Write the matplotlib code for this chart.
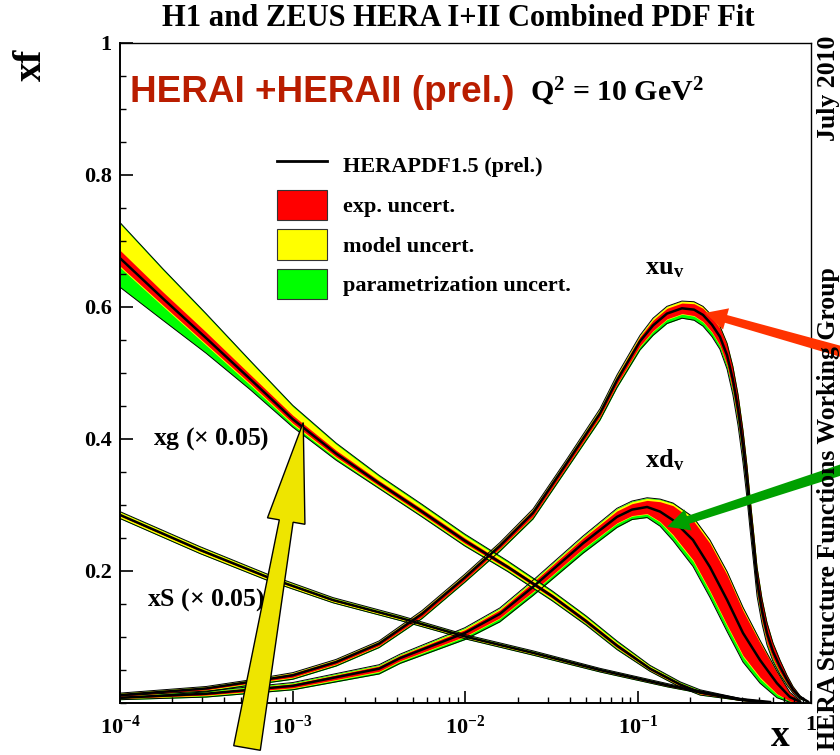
import numpy as np
import matplotlib
matplotlib.use("Agg")
import matplotlib.pyplot as plt
from matplotlib.lines import Line2D
from matplotlib.patches import Patch, Polygon
from matplotlib.ticker import FixedLocator, LogLocator, MultipleLocator, NullFormatter

plt.rcParams['font.family'] = ['Liberation Serif', 'DejaVu Serif']
plt.rcParams['font.weight'] = 'bold'
plt.rcParams['mathtext.fontset'] = 'custom'
plt.rcParams['mathtext.default'] = 'bf'
plt.rcParams['mathtext.bf'] = 'Liberation Serif:bold'
plt.rcParams['mathtext.rm'] = 'Liberation Serif:bold'

# gluon (scaled by 0.05)
x_g = [1e-4, 1.77e-4, 3.15e-4, 5.66e-4, 1e-3, 1.78e-3, 3.16e-3, 5.6e-3, 9.9e-3,
       0.0176, 0.0317, 0.0499, 0.0753, 0.117, 0.175, 0.228, 0.388, 0.579]
g_c = [0.674, 0.613, 0.553, 0.491, 0.430, 0.378, 0.333, 0.290, 0.246,
       0.206, 0.162, 0.124, 0.087, 0.052, 0.028, 0.016, 0.005, 0.0]
g_exp = [0.012, 0.010, 0.009, 0.007, 0.006, 0.005, 0.004, 0.004, 0.004,
         0.003, 0.003, 0.003, 0.003, 0.002, 0.002, 0.002, 0.001, 0.0]
g_mod_up = [0.040, 0.033, 0.026, 0.019, 0.013, 0.009, 0.006, 0.005, 0.004,
            0.004, 0.003, 0.003, 0.002, 0.002, 0.001, 0.001, 0.001, 0.0]
g_mod_dn = [0.002, 0.002, 0.002, 0.002, 0.002, 0.002, 0.002, 0.002, 0.002,
            0.002, 0.002, 0.001, 0.001, 0.001, 0.001, 0.001, 0.0, 0.0]
g_par_up = [0.002, 0.002, 0.002, 0.002, 0.002, 0.002, 0.002, 0.002, 0.002,
            0.002, 0.002, 0.002, 0.002, 0.001, 0.001, 0.001, 0.0, 0.0]
g_par_dn = [0.030, 0.021, 0.012, 0.007, 0.004, 0.003, 0.002, 0.002, 0.002,
            0.002, 0.002, 0.002, 0.002, 0.001, 0.001, 0.001, 0.0, 0.0]

# sea (scaled by 0.05)
x_s = [1e-4, 2.9e-4, 7.1e-4, 1.71e-3, 4.18e-3, 0.0102, 0.0246, 0.0601, 0.147, 0.228, 0.388, 0.579]
s_c = [0.285, 0.232, 0.191, 0.156, 0.129, 0.100, 0.076, 0.050, 0.027, 0.017, 0.006, 0.0015]
s_exp = [0.0015, 0.0015, 0.0015, 0.0012, 0.001, 0.001, 0.001, 0.001, 0.001, 0.001, 0.0005, 0.0]
s_mod_up = [0.003, 0.003, 0.0025, 0.002, 0.002, 0.0015, 0.0015, 0.001, 0.001, 0.0005, 0.0, 0.0]
s_mod_dn = [0.003, 0.003, 0.0025, 0.002, 0.002, 0.0015, 0.0015, 0.001, 0.001, 0.0005, 0.0, 0.0]
s_par_up = [0.0005, 0.0005, 0.0005, 0.0005, 0.0005, 0.0005, 0.0005, 0.0005, 0.0005, 0.0, 0.0, 0.0]
s_par_dn = [0.001, 0.001, 0.001, 0.001, 0.001, 0.001, 0.001, 0.001, 0.0005, 0.0005, 0.0, 0.0]

# u valence
x_u = [1e-4, 3.15e-4, 5.66e-4, 1e-3, 1.78e-3, 3.16e-3, 5.6e-3, 9.9e-3, 0.0158, 0.0246,
       0.0387, 0.0601, 0.0753, 0.1023, 0.1217, 0.1466, 0.179, 0.2103, 0.237, 0.2673,
       0.297, 0.3266, 0.353, 0.3783, 0.404, 0.4266, 0.443, 0.468, 0.487, 0.5204,
       0.556, 0.6026, 0.6615, 0.7261, 0.787, 0.864, 0.961]
u_c = [0.012, 0.022, 0.032, 0.042, 0.062, 0.090, 0.135, 0.190, 0.238, 0.288,
       0.364, 0.439, 0.489, 0.548, 0.572, 0.590, 0.598, 0.596, 0.588, 0.573,
       0.555, 0.527, 0.490, 0.445, 0.390, 0.335, 0.290, 0.230, 0.185, 0.140,
       0.106, 0.078, 0.055, 0.035, 0.020, 0.009, 0.002]
u_exp = [0.002, 0.002, 0.002, 0.003, 0.003, 0.003, 0.004, 0.004, 0.004, 0.005,
         0.005, 0.005, 0.006, 0.007, 0.008, 0.008, 0.008, 0.009, 0.010, 0.011,
         0.013, 0.015, 0.017, 0.019, 0.020, 0.020, 0.020, 0.019, 0.018, 0.016,
         0.014, 0.011, 0.009, 0.006, 0.004, 0.002, 0.0]
u_mod_up = [0.001, 0.001, 0.001, 0.001, 0.001, 0.001, 0.001, 0.001, 0.001, 0.001,
            0.001, 0.002, 0.002, 0.002, 0.003, 0.003, 0.003, 0.003, 0.003, 0.003,
            0.003, 0.003, 0.003, 0.003, 0.003, 0.003, 0.003, 0.003, 0.003, 0.002,
            0.002, 0.002, 0.001, 0.001, 0.001, 0.0, 0.0]
u_mod_dn = [0.001] * 33 + [0.0] * 4
u_par_up = [0.0] * 37
u_par_dn = [0.002, 0.002, 0.002, 0.002, 0.002, 0.002, 0.002, 0.002, 0.003, 0.003,
            0.003, 0.004, 0.004, 0.005, 0.006, 0.006, 0.006, 0.006, 0.006, 0.006,
            0.005, 0.005, 0.005, 0.005, 0.005, 0.005, 0.004, 0.004, 0.004, 0.003,
            0.003, 0.003, 0.002, 0.002, 0.001, 0.001, 0.0]

# d valence
x_d = [1e-4, 3.15e-4, 1e-3, 3.16e-3, 4.18e-3, 9.9e-3, 0.0158, 0.0246, 0.0479, 0.0753,
       0.092, 0.1125, 0.1337, 0.159, 0.2074, 0.260, 0.327, 0.404, 0.507, 0.635,
       0.755, 0.864]
d_c = [0.008, 0.014, 0.026, 0.052, 0.068, 0.106, 0.135, 0.176, 0.242, 0.282,
       0.293, 0.297, 0.290, 0.277, 0.247, 0.206, 0.156, 0.106, 0.065, 0.030,
       0.009, 0.002]
d_exp = [0.001, 0.002, 0.003, 0.004, 0.004, 0.005, 0.006, 0.007, 0.008, 0.009,
         0.009, 0.010, 0.015, 0.022, 0.030, 0.036, 0.038, 0.034, 0.026, 0.016,
         0.006, 0.002]
d_mod_up = [0.001, 0.001, 0.001, 0.001, 0.001, 0.002, 0.002, 0.002, 0.002, 0.003,
            0.003, 0.003, 0.003, 0.003, 0.004, 0.004, 0.004, 0.004, 0.003, 0.002,
            0.001, 0.0]
d_mod_dn = [0.001, 0.001, 0.001, 0.001, 0.001, 0.001, 0.001, 0.001, 0.001, 0.001,
            0.001, 0.001, 0.001, 0.002, 0.002, 0.002, 0.002, 0.002, 0.002, 0.001,
            0.0, 0.0]
d_par_up = [0.001, 0.001, 0.001, 0.001, 0.001, 0.001, 0.001, 0.001, 0.001, 0.001,
            0.001, 0.001, 0.001, 0.001, 0.001, 0.001, 0.001, 0.001, 0.001, 0.0,
            0.0, 0.0]
d_par_dn = [0.001, 0.002, 0.002, 0.003, 0.003, 0.004, 0.005, 0.005, 0.006, 0.006,
            0.005, 0.005, 0.006, 0.007, 0.008, 0.008, 0.008, 0.008, 0.007, 0.005,
            0.002, 0.0]

x_ticks = [1e-4, 1e-3, 1e-2, 1e-1, 1]
x_ticklabels = ['$10^{-4}$', '$10^{-3}$', '$10^{-2}$', '$10^{-1}$', '1']
y_ticks = [0.2, 0.4, 0.6, 0.8, 1.0]
y_ticklabels = ['0.2', '0.4', '0.6', '0.8', '1']

RED, YEL, GRN = '#ff0000', '#ffff00', '#00ff00'
W, H = 840, 755


def draw_band(ax, x, c, exp, mu, md, pu, pd):
    c = np.asarray(c)
    hi_e = c + np.asarray(exp)
    lo_e = c - np.asarray(exp)
    hi_m = hi_e + np.asarray(mu)
    lo_m = lo_e - np.asarray(md)
    hi_p = hi_m + np.asarray(pu)
    lo_p = lo_m - np.asarray(pd)
    ax.fill_between(x, lo_p, hi_p, color=GRN, lw=0)
    ax.fill_between(x, lo_m, hi_m, color=YEL, lw=0)
    ax.fill_between(x, lo_e, hi_e, color=RED, lw=0)
    ax.plot(x, hi_p, color='k', lw=0.7)
    ax.plot(x, lo_p, color='k', lw=0.7)
    ax.plot(x, c, color='k', lw=1.8)


def taper_arrow(fig, ax, tip_data, tail_px, w_tail, w_neck, head_w, head_len, **kw):
    # tail given in pixels from the top-left corner, tip in data coordinates
    tip = ax.transData.transform(tip_data)
    tail = np.array([tail_px[0], H - tail_px[1]], dtype=float)
    u = (tip - tail) / np.hypot(*(tip - tail))
    n = np.array([-u[1], u[0]])
    neck = tip - u * head_len
    pts = [tail + n * w_tail / 2, neck + n * w_neck / 2, neck + n * head_w / 2, tip,
           neck - n * head_w / 2, neck - n * w_neck / 2, tail - n * w_tail / 2]
    pts = np.array(pts) / [W, H]
    fig.add_artist(Polygon(pts, closed=True, transform=fig.transFigure, clip_on=False,
                           zorder=3, **kw))


fig = plt.figure(figsize=(W / 100, H / 100), dpi=100)
ax = fig.add_axes([120 / W, 1 - 703 / H, 691 / W, 660 / H])
ax.set_xscale('log')

draw_band(ax, x_s, s_c, s_exp, s_mod_up, s_mod_dn, s_par_up, s_par_dn)
draw_band(ax, x_d, d_c, d_exp, d_mod_up, d_mod_dn, d_par_up, d_par_dn)
draw_band(ax, x_u, u_c, u_exp, u_mod_up, u_mod_dn, u_par_up, u_par_dn)
draw_band(ax, x_g, g_c, g_exp, g_mod_up, g_mod_dn, g_par_up, g_par_dn)

ax.set_xlim(1e-4, 1)
ax.set_ylim(0, 1)
ax.xaxis.set_major_locator(FixedLocator(x_ticks))
ax.set_xticklabels(x_ticklabels)
ax.xaxis.set_minor_locator(LogLocator(base=10, subs=np.arange(2, 10)))
ax.xaxis.set_minor_formatter(NullFormatter())
ax.yaxis.set_major_locator(FixedLocator(y_ticks))
ax.set_yticklabels(y_ticklabels)
ax.yaxis.set_minor_locator(MultipleLocator(0.05))
ax.tick_params(which='both', direction='in', top=False, right=False, labelsize=16)
ax.tick_params(which='major', length=9, width=1.2)
ax.tick_params(which='minor', length=4.5, width=1.0)
ax.tick_params(axis='x', pad=9)
ax.tick_params(axis='y', pad=6)
for side in ['left', 'bottom']:
    ax.spines[side].set_linewidth(1.4)
for side in ['top', 'right']:
    ax.spines[side].set_linewidth(1.0)

# legend
handles = [Line2D([], [], color='k', lw=2),
           Patch(facecolor=RED, edgecolor='#333333', lw=0.8),
           Patch(facecolor=YEL, edgecolor='#333333', lw=0.8),
           Patch(facecolor=GRN, edgecolor='#333333', lw=0.8)]
labels = ['HERAPDF1.5 (prel.)', 'exp. uncert.', 'model uncert.', 'parametrization uncert.']
fig.legend(handles, labels, loc='upper left', bbox_to_anchor=(277 / W, 1 - 150 / H),
           frameon=False, fontsize=16, handlelength=2.25, handleheight=1.72,
           labelspacing=0.42, handletextpad=0.72, borderpad=0, borderaxespad=0)

# labels on the curves
ax.text(1.55e-4, 0.40, r'xg ($\times$ 0.05)', fontsize=18.5, va='center', ha='left')
ax.text(1.43e-4, 0.156, r'xS ($\times$ 0.05)', fontsize=18.5, va='center', ha='left')
ax.text(0.109, 0.659, r'xu$_{\rm v}$', fontsize=19, va='center', ha='left')
ax.text(0.109, 0.368, r'xd$_{\rm v}$', fontsize=19, va='center', ha='left')

# arrows pointing at the curves
taper_arrow(fig, ax, (1.15e-3, 0.425), (247, 748), 27, 14, 38, 100,
            facecolor='#eee500', edgecolor='k', lw=1)
taper_arrow(fig, ax, (0.243, 0.591), (850, 354), 11, 8, 22, 22,
            facecolor='#ff3300', edgecolor='none')
taper_arrow(fig, ax, (0.147, 0.267), (850, 467), 11, 8, 22, 22,
            facecolor='#00a000', edgecolor='none')

# titles and annotations around the frame
fig.text(458 / W, 1 - 18 / H, 'H1 and ZEUS HERA I+II Combined PDF Fit', fontsize=22,
         ha='center', va='center')
fig.text(31 / W, 1 - 65 / H, 'xf', fontsize=28, rotation=90, ha='center', va='center')
fig.text(780 / W, 1 / H, 'x', fontsize=27, ha='center', va='bottom')
fig.text(130 / W, 1 - 93 / H, 'HERAI +HERAII (prel.)', fontsize=26.6, color='#b91d00',
         family='Liberation Sans', ha='left', va='center')
fig.text(530 / W, 1 - 92 / H, 'Q$^{2}$ = 10 GeV$^{2}$', fontsize=21.5, ha='left', va='center')
fig.text(829 / W, 1 - 88 / H, 'July 2010', fontsize=18.5, rotation=90, ha='center', va='center')
fig.text(829 / W, 1 - 509 / H, 'HERA Structure Functions Working Group', fontsize=18.5,
         rotation=90, ha='center', va='center')

fig.savefig('out.png', dpi=100)
